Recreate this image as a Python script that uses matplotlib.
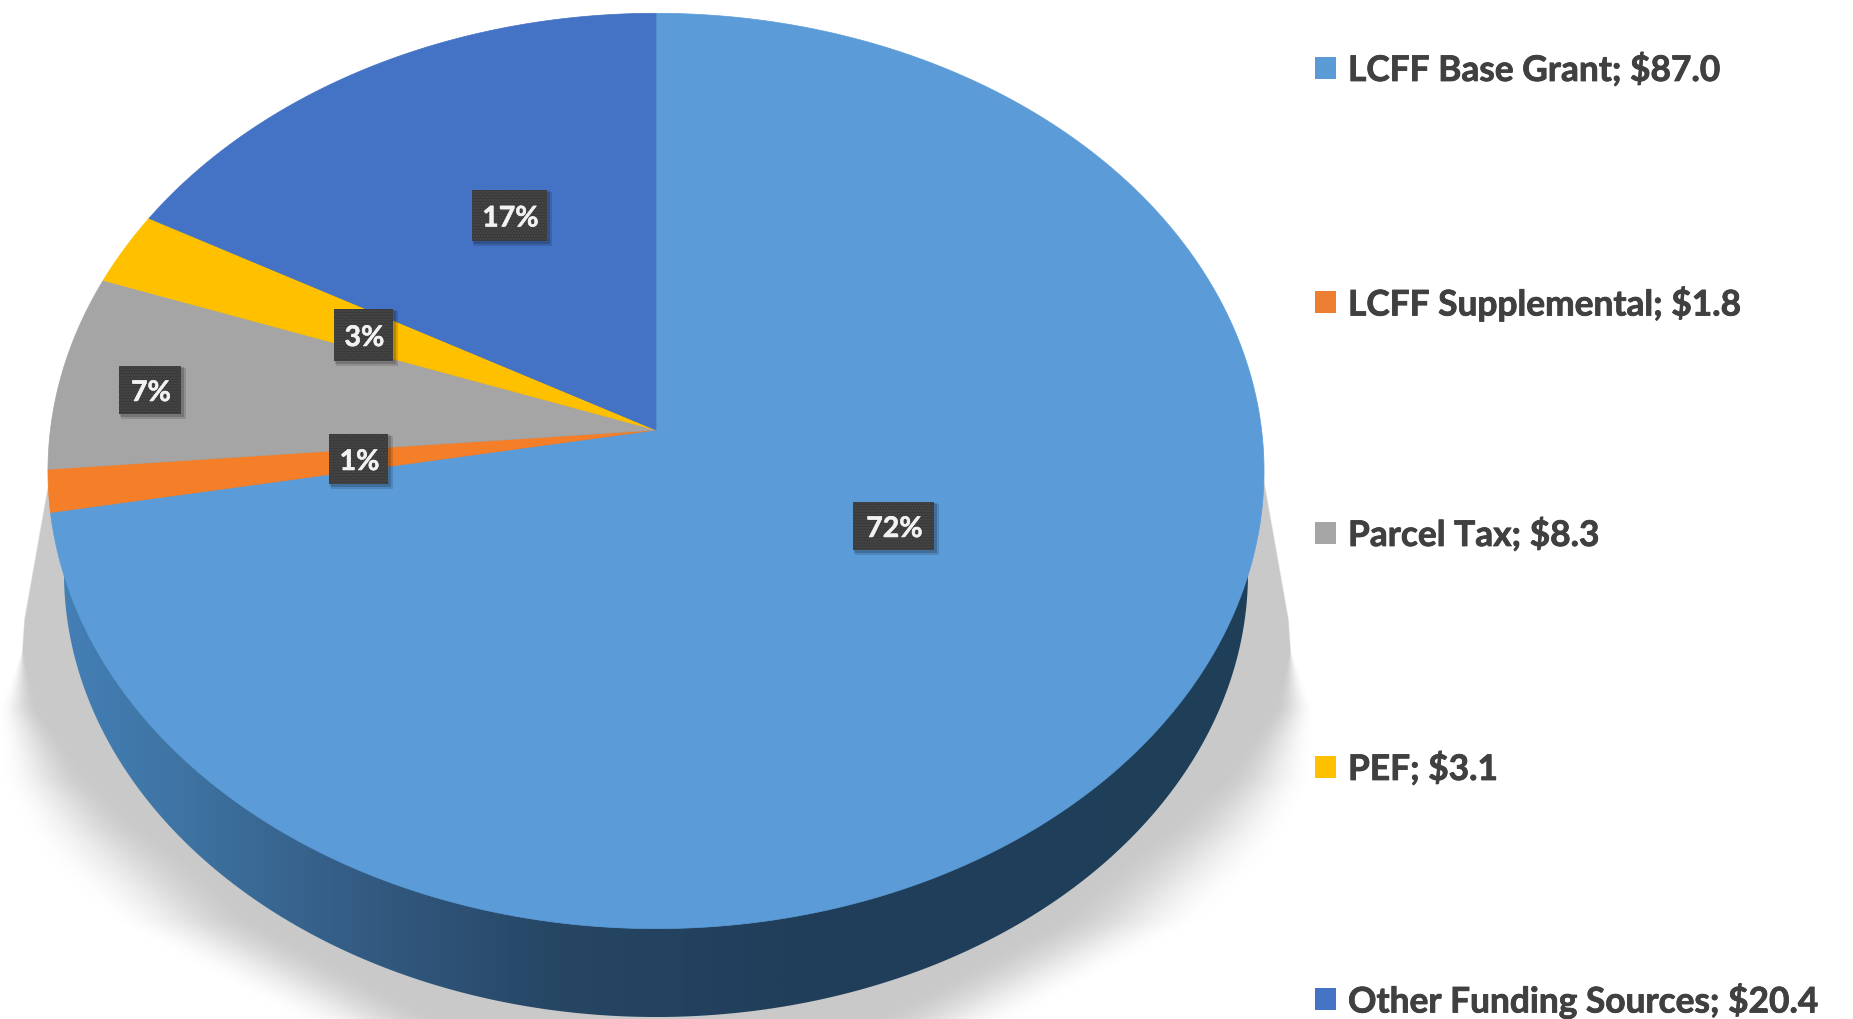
import numpy as np
import matplotlib
matplotlib.use('Agg')
import matplotlib.pyplot as plt
import matplotlib.patheffects as pe
from matplotlib.patches import Rectangle, Polygon
from matplotlib.colors import LinearSegmentedColormap

categories = ['LCFF Base Grant', 'LCFF Supplemental', 'Parcel Tax', 'PEF', 'Other Funding Sources']
amounts    = [87.0, 1.8, 8.3, 3.1, 20.4]
pct_labels = ['72%', '1%', '7%', '3%', '17%']
colors     = ['#5b9cd8', '#f57f28', '#a5a5a5', '#ffc000', '#4472c4']
legend_colors = ['#5b9bd5', '#ed7d31', '#a5a5a5', '#ffc000', '#4472c4']

# label boxes, pixels: x0, x1, y0, y1
label_boxes = [(853, 934, 503, 551), (329, 388, 435, 485), (119, 181, 367, 415), (334, 393, 310, 362), (472, 547, 191, 242)]
legend_y    = [69, 303, 534, 768, 1000]

W, H = 1853, 1020
CX, CY = 656, 431   # apex of the wedges
K, M, P = 605.6, 454.0, 0.0895   # perspective of the disc


def disc_point(theta):
    # theta clockwise from the top of the disc, in radians
    u, v = np.sin(theta), np.cos(theta)
    w = 1 + P * v
    return CX + K * u / w, CY - M * v / w


fig = plt.figure(figsize=(W / 100, H / 100), dpi=100)
ax = fig.add_axes([0, 0, 1, 1])
ax.set_xlim(0, W)
ax.set_ylim(H, 0)
ax.axis('off')

yy, xx = np.mgrid[0:H, 0:W]

# soft shadow under the pie, sharp at the top and blurred towards the bottom
half_w = np.interp(yy, [340, 473, 620, 709, 780, 830, 922, 1016, 1100], [575, 606, 632, 638, 610, 570, 470, 295, 100])
blur = np.clip((yy - 650) * 0.7, 2, 150)
alpha = np.clip((half_w - np.abs(xx - 656)) / blur + 0.5, 0, 1)
alpha = alpha * alpha * (3 - 2 * alpha)
alpha[yy < 340] = 0
rgba = np.zeros((H, W, 4))
rgba[..., :3] = 0.79
rgba[..., 3] = alpha
ax.imshow(rgba, extent=(0, W, H, 0), aspect='auto', zorder=1, interpolation='bilinear')

# side of the pie
side_cmap = LinearSegmentedColormap.from_list('side', [(0, '#4480b8'), (0.10, '#3f75a5'), (0.25, '#345c84'),
                                                        (0.42, '#264664'), (0.6, '#213f5b'), (1, '#1f3e58')])
t = np.linspace(0, 2 * np.pi, 600)
low_x = 656 + 592 * np.cos(t)
low_y = 574 + 444 * np.sin(t)
side_clip = Polygon(np.column_stack([low_x, low_y]), closed=True, transform=ax.transData, fc='none', ec='none')
ax.add_patch(side_clip)
grad = np.linspace(0, 1, 512).reshape(1, -1)
im = ax.imshow(grad, extent=(47, 1264, H, 0), aspect='auto', cmap=side_cmap, zorder=2)
im.set_clip_path(side_clip)
ax.set_xlim(0, W)
ax.set_ylim(H, 0)

# top face
total = sum(amounts)
start = 0.0
for val, col in zip(amounts, colors):
    end = start + val / total * 2 * np.pi
    th = np.linspace(start, end, 300)
    x, y = disc_point(th)
    ax.fill(np.r_[CX, x], np.r_[CY, y], color=col, lw=0.5, zorder=3)
    start = end

# percent labels
for lab, (x0, x1, y0, y1) in zip(pct_labels, label_boxes):
    ax.add_patch(Rectangle((x0 + 2, y0 + 2), x1 - x0 + 3, y1 - y0 + 3, fc='#000000', alpha=0.13, ec='none', zorder=3.8))
    ax.add_patch(Rectangle((x0 + 1, y0 + 1), x1 - x0 + 2, y1 - y0 + 2, fc='#000000', alpha=0.18, ec='none', zorder=3.9))
    ax.add_patch(Rectangle((x0, y0), x1 - x0, y1 - y0, fc='#393939', ec='#4c4c4c', lw=0, hatch='......', zorder=4))
    ax.text((x0 + x1) / 2 + 1, (y0 + y1) / 2 + 3, lab, color='#f2f2f2', fontsize=20.5, fontweight='bold', family='Lato',
            ha='center', va='center', zorder=5,
            path_effects=[pe.withStroke(linewidth=0.4, foreground='#f2f2f2')])

# legend
for cat, amt, col, ly in zip(categories, amounts, legend_colors, legend_y):
    ax.add_patch(Rectangle((1315, ly - 11), 21, 22, fc=col, ec='none', zorder=4))
    ax.text(1348, ly - 1, f'{cat}; ${amt:.1f}', color='#404040', fontsize=25.4, fontweight='bold', family='Lato',
            ha='left', va='center_baseline', zorder=5,
            path_effects=[pe.withStroke(linewidth=0.6, foreground='#404040')])

fig.savefig('out.png', dpi=100)
